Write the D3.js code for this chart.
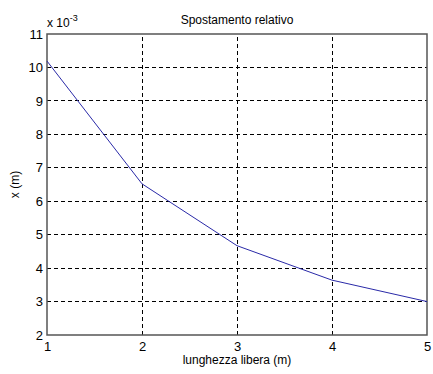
<!DOCTYPE html>
<html lang="it">
<head>
  <meta charset="UTF-8" />
  <title>Spostamento relativo</title>
  <script src="https://d3js.org/d3.v7.min.js"></script>
  <style>
    body { margin: 0; background: #fff; }
    svg { display: block; font-family: "Liberation Sans", Arial, sans-serif; }
    .grid line { stroke: #000; stroke-dasharray: 4,3; stroke-width: 1; shape-rendering: crispEdges; }
    .tick text { font-size: 13px; fill: #000; }
  </style>
</head>
<body>
  <svg width="433" height="374"></svg>
  <script>
    const lunghezza = [1, 2, 3, 4, 5];
    const spostamento = [10.19, 6.52, 4.67, 3.64, 3.0]; // x 10^-3
    const xTicks = [1, 2, 3, 4, 5];
    const yTicks = [2, 3, 4, 5, 6, 7, 8, 9, 10, 11];

    const svg = d3.select("svg");
    const m = { left: 47, right: 6, top: 34, bottom: 39 };
    const W = 433, H = 374;

    const x = d3.scaleLinear().domain([1, 5]).range([m.left, W - m.right]);
    const y = d3.scaleLinear().domain([2, 11]).range([H - m.bottom, m.top]);

    // griglia
    const grid = svg.append("g").attr("class", "grid");
    grid.selectAll(".v").data(xTicks.slice(1, -1)).join("line")
      .attr("x1", d => x(d)).attr("x2", d => x(d))
      .attr("y1", y(2)).attr("y2", y(11));
    grid.selectAll(".h").data(yTicks.slice(1, -1)).join("line")
      .attr("x1", x(1)).attr("x2", x(5))
      .attr("y1", d => y(d)).attr("y2", d => y(d));

    // assi
    svg.append("g")
      .attr("transform", `translate(0,${y(2)})`)
      .call(d3.axisBottom(x).tickValues(xTicks).tickSize(0).tickPadding(7).tickFormat(d3.format("d")))
      .call(g => g.select(".domain").remove());
    svg.append("g")
      .attr("transform", `translate(${x(1)},0)`)
      .call(d3.axisLeft(y).tickValues(yTicks).tickSize(0).tickPadding(4).tickFormat(d3.format("d")))
      .call(g => g.select(".domain").remove());

    svg.append("rect")
      .attr("x", x(1)).attr("y", y(11))
      .attr("width", x(5) - x(1)).attr("height", y(2) - y(11))
      .attr("fill", "none").attr("stroke", "#555").attr("stroke-width", 1.5);

    // curva
    svg.append("path")
      .datum(lunghezza.map((d, i) => [d, spostamento[i]]))
      .attr("fill", "none")
      .attr("stroke", "#2a2aa8")
      .attr("stroke-width", 1)
      .attr("d", d3.line().x(d => x(d[0])).y(d => y(d[1])));

    // testi
    svg.append("text").attr("x", (x(1) + x(5)) / 2).attr("y", 24)
      .attr("text-anchor", "middle").attr("font-size", 12).text("Spostamento relativo");
    const exp = svg.append("text").attr("x", x(1)).attr("y", 27).attr("font-size", 12);
    exp.append("tspan").text("x 10");
    exp.append("tspan").attr("dy", -6).attr("font-size", 9).text("-3");
    svg.append("text").attr("x", (x(1) + x(5)) / 2).attr("y", 364)
      .attr("text-anchor", "middle").attr("font-size", 12).text("lunghezza libera (m)");
    svg.append("text")
      .attr("transform", `translate(19,${(y(2) + y(11)) / 2}) rotate(-90)`)
      .attr("text-anchor", "middle").attr("font-size", 12).text("x (m)");
  </script>
</body>
</html>
